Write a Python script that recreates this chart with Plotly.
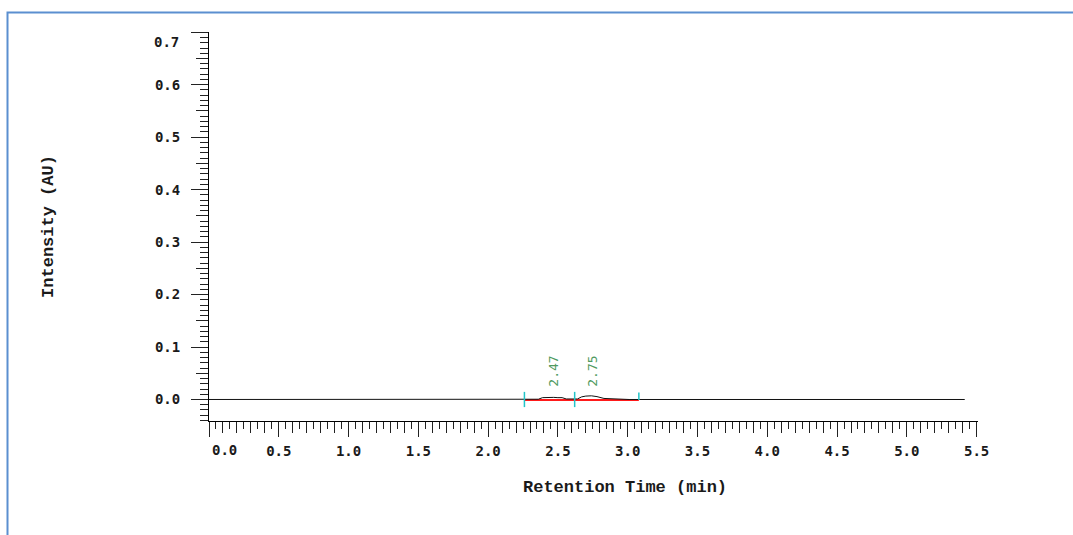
import plotly.graph_objects as go

# ---- data ----
time_min = [0.0, 2.26, 2.36, 2.39, 2.42, 2.47, 2.50, 2.53, 2.56, 2.62, 2.64, 2.67,
            2.70, 2.74, 2.78, 2.83, 2.90, 2.99, 3.01, 5.415]
intensity_au = [0.0, 0.0, 0.0005, 0.0035, 0.004, 0.004, 0.0035, 0.0035, 0.001, 0.0005, 0.001, 0.005,
                0.0065, 0.007, 0.0055, 0.002, 0.0015, 0.0015, 0.0, 0.0]

peak_labels = ["2.47", "2.75"]
peak_times = [2.47, 2.75]
peak_label_y = [0.021, 0.021]

# integration baselines (start, end) of each peak
baseline_start = [2.26, 2.62]
baseline_end = [2.62, 3.08]
baseline_y = [-0.001, -0.001]

# peak start/end markers
marker_times = [2.26, 2.62, 3.08]
marker_top = [0.0145, 0.0145, 0.0135]
marker_bottom = [-0.0145, -0.0145, -0.001]

x_ticks = [0.0, 0.5, 1.0, 1.5, 2.0, 2.5, 3.0, 3.5, 4.0, 4.5, 5.0, 5.5]
x_tick_text = ["", "0.5", "1.0", "1.5", "2.0", "2.5", "3.0", "3.5", "4.0", "4.5", "5.0", "5.5"]
y_ticks = [0.0, 0.1, 0.2, 0.3, 0.4, 0.5, 0.6, 0.7]
y_tick_text = ["0.0", "0.1", "0.2", "0.3", "0.4", "0.5", "0.6", ""]

x_range = [0, 5.51]
y_range = [-0.041, 0.7005]

tick_font = dict(family="DejaVu Sans Mono", size=14, color="#1a1a1a", weight="bold")
title_font = dict(family="Liberation Mono", size=17, color="#1a1a1a", weight="bold")

L, W, T, H = 209, 769, 32, 389

fig = go.Figure()

# integration baselines (red)
bx, by = [], []
for s, e, yv in zip(baseline_start, baseline_end, baseline_y):
    bx += [s, e, None]
    by += [yv, yv, None]
fig.add_trace(go.Scatter(x=bx, y=by, mode="lines", line=dict(color="#ff1a1a", width=2),
                         hoverinfo="skip", showlegend=False))

# chromatogram
fig.add_trace(go.Scatter(x=time_min, y=intensity_au, mode="lines",
                         line=dict(color="#111111", width=1), showlegend=False, name="Signal"))

# peak markers (cyan)
mx, my = [], []
for t, top, bot in zip(marker_times, marker_top, marker_bottom):
    mx += [t, t, None]
    my += [bot, top, None]
fig.add_trace(go.Scatter(x=mx, y=my, mode="lines", line=dict(color="#22c4c8", width=1.5),
                         hoverinfo="skip", showlegend=False))

# dummy trace for overlay tick axes
fig.add_trace(go.Scatter(x=[0], y=[0], xaxis="x2", yaxis="y2", mode="lines",
                         line=dict(width=0), hoverinfo="skip", showlegend=False))

for lab, t, yv in zip(peak_labels, peak_times, peak_label_y):
    fig.add_annotation(x=t, y=yv, text=lab, textangle=-90, showarrow=False,
                       xanchor="center", yanchor="bottom",
                       font=dict(family="DejaVu Sans Mono", size=13, color="#4f9a60"))

# shifted edge tick labels
fig.add_annotation(x=0.0, y=0, yref="paper", text="0.0", showarrow=False,
                   xanchor="left", yanchor="top", xshift=1, yshift=-19, font=tick_font)
fig.add_annotation(x=0, xref="paper", y=0.7, text="0.7", showarrow=False,
                   xanchor="right", yanchor="middle", xshift=-28, yshift=-10, font=tick_font)

# x axis title
fig.add_annotation(x=(624.5 - L) / W, xref="paper", y=(T + H - 487) / H, yref="paper",
                   text="Retention Time (min)", showarrow=False, xanchor="center",
                   yanchor="middle", font=title_font)

axis_common = dict(showgrid=False, zeroline=False, linecolor="#000000", linewidth=1,
                   ticks="outside", tickcolor="#222222", tickwidth=1)

fig.update_layout(
    width=1073, height=535,
    margin=dict(l=L, r=1073 - L - W, t=T, b=535 - T - H),
    paper_bgcolor="white", plot_bgcolor="white",
    showlegend=False,
    xaxis=dict(range=x_range, tickvals=x_ticks, ticktext=x_tick_text, ticklen=15,
               showline=True, tickfont=tick_font, ticklabelstandoff=2,
               minor=dict(dtick=0.05, tick0=0, ticklen=6.5, ticks="outside",
                          tickcolor="#222222", tickwidth=1),
               **axis_common),
    yaxis=dict(range=y_range, tickvals=y_ticks, ticktext=y_tick_text, ticklen=17,
               showline=True, tickfont=tick_font, ticklabelstandoff=8,
               minor=dict(dtick=0.01, tick0=0, ticklen=8, ticks="outside",
                          tickcolor="#222222", tickwidth=1),
               title=dict(text="Intensity (AU)", font=title_font, standoff=96),
               **axis_common),
    xaxis2=dict(range=x_range, overlaying="x", anchor="y", side="bottom", dtick=0.1, tick0=0,
                ticklen=11, showticklabels=False, showline=False, showgrid=False,
                zeroline=False, ticks="outside", tickcolor="#222222", tickwidth=1),
    yaxis2=dict(range=y_range, overlaying="y", anchor="x", side="left", dtick=0.05, tick0=0,
                ticklen=12, showticklabels=False, showline=False, showgrid=False,
                zeroline=False, ticks="outside", tickcolor="#222222", tickwidth=1),
    shapes=[dict(type="rect", xref="paper", yref="paper",
                 x0=(7.5 - L) / W, x1=(1085 - L) / W,
                 y0=(T + H - 550) / H, y1=(T + H - 12.5) / H,
                 line=dict(color="#5b8fd0", width=2), fillcolor="rgba(0,0,0,0)", layer="below")],
)

fig.write_html("out.html")
